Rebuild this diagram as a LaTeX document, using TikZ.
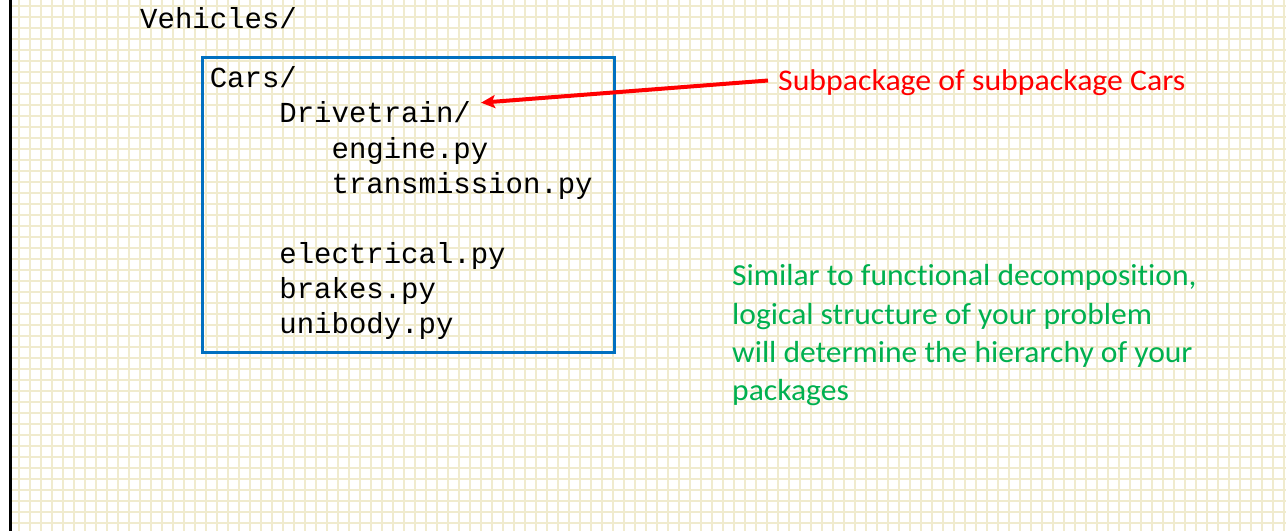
\documentclass[tikz,border=0pt]{standalone}
\usepackage{fontspec}
\setmonofont{Liberation Mono}
\newfontfamily\rednotefont[FakeStretch=1.06, Ligatures=NoCommon, RawFeature=-liga]{Carlito}
\newfontfamily\greennotefont[FakeStretch=1.035, Ligatures=NoCommon, RawFeature=-liga]{Carlito}
\usetikzlibrary{arrows.meta}
\definecolor{gridbeige}{RGB}{240,235,206}
\definecolor{boxblue}{RGB}{0,112,192}
\definecolor{notered}{RGB}{255,0,0}
\definecolor{notegreen}{RGB}{0,176,80}
\begin{document}
\begin{tikzpicture}[x=1pt,y=-1pt,
  gridline/.style={draw=gridbeige, line width=2.8pt},
  codeline/.style={inner sep=0pt, anchor=base west, font=\fontsize{29}{35}\selectfont\ttfamily},
  pkgbox/.style={draw=boxblue, line width=3pt, inner sep=0pt, anchor=north west}]
\useasboundingbox (0,0) rectangle (1286,531);
\fill[white] (0,0) rectangle (1286,531);
% squared paper
\foreach \k in {1,...,116} \draw[gridline] (8+11*\k,0) -- (8+11*\k,531);
\foreach \k in {0,...,47} \draw[gridline] (12,6+11*\k) -- (1286,6+11*\k);
% left margin rule
\draw[line width=3pt] (10.5,0) -- (10.5,531);

% package tree
\def\col{17.4}
\node[codeline] (vehicles) at (140,28.5) {Vehicles/};
\node[pkgbox, minimum width=412pt, minimum height=295pt] (carsbox) at (200.7,55.7) {};
\node[codeline] (cars)   at (140+4*\col,87.7)  {Cars/};
\node[codeline] (drive)  at (140+8*\col,122.7) {Drivetrain/};
\node[codeline] (engine) at (140+11*\col,158)  {engine.py};
\node[codeline] (trans)  at (140+11*\col,193)  {transmission.py};
\node[codeline] (elec)   at (140+8*\col,263)   {electrical.py};
\node[codeline] (brakes) at (140+8*\col,298)   {brakes.py};
\node[codeline] (unibody) at (140+8*\col,333.5) {unibody.py};

% annotations
\node[inner sep=0pt, font=\fontsize{30}{36}\selectfont\rednotefont, text=notered, anchor=base west] (sub) at (778,90)
  {Subpackage of subpackage Cars};
\draw[notered, line width=4pt, -{Stealth[length=14pt,width=13pt,inset=3pt]}]
  ([xshift=-10pt,yshift=9.5pt]sub.base west) -- ([xshift=10pt,yshift=20pt]drive.base east);
\node[inner sep=0pt, font=\fontsize{30.5}{38.3}\selectfont\greennotefont, text=notegreen, align=left, anchor=north west] (similar) at (732,264.5)
  {Similar to functional decomposition,\\logical structure of your problem\\will determine the hierarchy of your\\packages};
\end{tikzpicture}
\end{document}
